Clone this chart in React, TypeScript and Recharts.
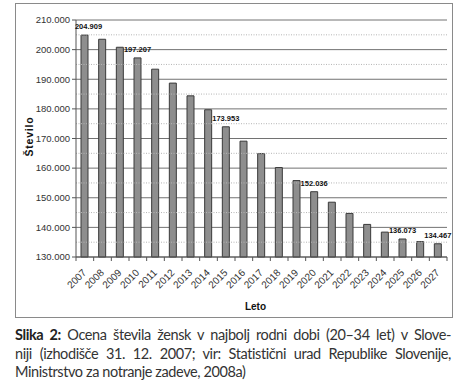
import React from 'react';
import { BarChart, Bar, XAxis, YAxis, CartesianGrid, ReferenceLine, ReferenceArea, LabelList } from 'recharts';

// Ocena števila žensk v najbolj rodni dobi (20–34 let), 2007–2027
const years = ['2007', '2008', '2009', '2010', '2011', '2012', '2013', '2014', '2015', '2016', '2017',
  '2018', '2019', '2020', '2021', '2022', '2023', '2024', '2025', '2026', '2027'];
const women = [204909, 203500, 200800, 197207, 193400, 188700, 184400, 179700, 173953, 169100, 164900,
  160200, 155800, 152036, 148500, 144700, 141000, 138400, 136073, 135200, 134467];
const labeledYears = ['2007', '2010', '2015', '2020', '2025', '2027'];
const yTicks = [130000, 140000, 150000, 160000, 170000, 180000, 190000, 200000, 210000];
const minorLines = [135000, 145000, 155000, 165000, 175000, 185000, 195000, 205000];

const data = years.map((year, i) => ({ year, value: women[i] }));

const fmt = (v: number) => String(v).replace(/\B(?=(\d{3})+(?!\d))/g, '.');
const axisFont = '"Liberation Sans", Arial, sans-serif';

function YearTick(props: any) {
  const { x, y, payload, index, visibleTicksCount } = props;
  const off = payload.offset ?? 0;
  return (
    <g transform={`translate(${x},${y})`}>
      <line x1={-off} x2={-off} y1={0} y2={4} stroke="#555" />
      {index === visibleTicksCount - 1 && <line x1={off} x2={off} y1={0} y2={4} stroke="#555" />}
      <text x={-10} y={13} textAnchor="end" transform="rotate(-45)" fontSize={10} fill="#333" fontFamily={axisFont}>
        {payload.value}
      </text>
    </g>
  );
}

function ValueLabel(props: any) {
  const { x, y, width, index } = props;
  if (!labeledYears.includes(years[index])) return null;
  return (
    <text x={x + width / 2 + (index === 0 ? 4 : 0)} y={y - 6} textAnchor="middle" fontSize={7.5} fontWeight="bold" fill="#111" fontFamily={axisFont}>
      {fmt(women[index])}
    </text>
  );
}

export default function App() {
  return (
    <div style={{ position: 'absolute', left: 0, top: 0, width: 466, height: 385, background: '#fff', overflow: 'hidden' }}>
      <div style={{ position: 'absolute', left: 15, top: 3, width: 438, height: 315, border: '1px solid #8a8a8a', boxSizing: 'border-box' }} />
      <div style={{ position: 'absolute', left: 0, top: 0 }}>
        <BarChart width={466} height={320} data={data} margin={{ top: 20, right: 19, bottom: 5, left: 10 }} barCategoryGap={0}>
          <CartesianGrid vertical={false} stroke="#727272" />
          {minorLines.map((v) => (
            <ReferenceLine key={v} y={v} stroke="#b5b5b5" strokeDasharray="1 1.5" />
          ))}
          <ReferenceArea x1="2007" x2="2027" y1={130000} y2={210000} fill="none" stroke="#c4c4c4" />
          <XAxis
            dataKey="year"
            interval={0}
            height={58}
            tickLine={false}
            tickSize={0}
            tickMargin={0}
            axisLine={{ stroke: '#555' }}
            tick={<YearTick />}
            label={{
              content: ({ viewBox }: any) => (
                <text x={viewBox.x + viewBox.width / 2 - 6} y={viewBox.y + 53} textAnchor="middle" fontSize={10} fontWeight="bold" fill="#111" fontFamily={axisFont}>
                  Leto
                </text>
              ),
            }}
          />
          <YAxis
            width={66}
            domain={[130000, 210000]}
            ticks={yTicks}
            tickFormatter={fmt}
            tickSize={4}
            tickMargin={2}
            axisLine={{ stroke: '#555' }}
            tickLine={{ stroke: '#555' }}
            tick={{ fontSize: 9.5, fill: '#333', fontFamily: axisFont }}
            label={{
              content: ({ viewBox }: any) => {
                const lx = viewBox.x + 23;
                const ly = viewBox.y + viewBox.height / 2 - 2;
                return (
                  <text x={lx} y={ly} transform={`rotate(-90 ${lx} ${ly})`} textAnchor="middle" fontSize={10.5} fontWeight="bold" letterSpacing={0.8} fill="#111" fontFamily={axisFont}>
                    Število
                  </text>
                );
              },
            }}
          />
          <Bar dataKey="value" barSize={7} fill="#8e8e8e" stroke="#3a3a3a" strokeWidth={1} isAnimationActive={false}>
            <LabelList dataKey="value" content={<ValueLabel />} />
          </Bar>
        </BarChart>
      </div>
      <div
        style={{
          position: 'absolute', left: 15, top: 326, width: 436,
          fontFamily: 'Lato, "Open Sans", sans-serif',
          fontSize: 14.5, letterSpacing: -0.4, lineHeight: '18.5px', color: '#333', textAlign: 'justify',
        }}
      >
        <div style={{ textAlignLast: 'justify', whiteSpace: 'nowrap' }}>
          <span style={{ fontWeight: 'bold', color: '#222' }}>Slika 2:</span> Ocena števila žensk v najbolj rodni dobi (20–34 let) v Slove-
        </div>
        <div style={{ textAlignLast: 'justify', whiteSpace: 'nowrap' }}>
          niji (izhodišče 31. 12. 2007; vir: Statistični urad Republike Slovenije,
        </div>
        <div style={{ whiteSpace: 'nowrap' }}>Ministrstvo za notranje zadeve, 2008a)</div>
      </div>
    </div>
  );
}
